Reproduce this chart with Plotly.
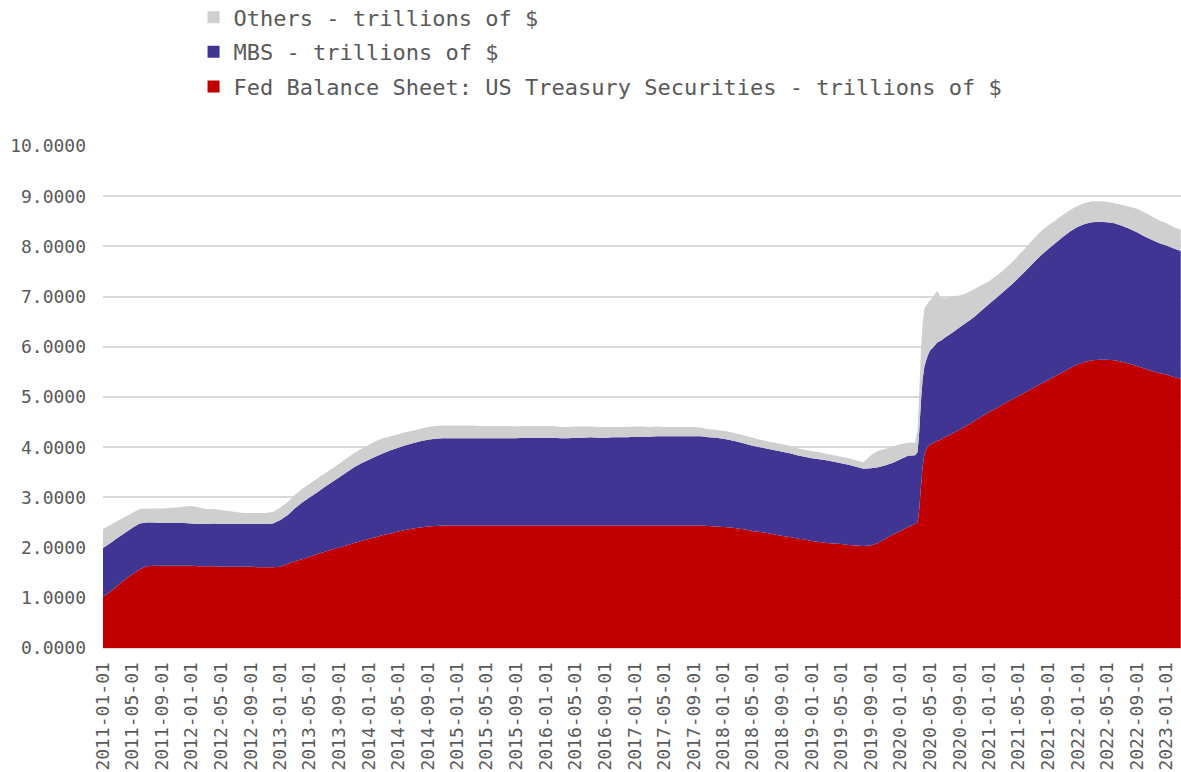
import pandas as pd
import plotly.graph_objects as go

# Monthly observations (first of month), Jan 2011 - Mar 2023, trillions of $
month_start = "2011-01-01"
month_count = 147

treasury_monthly = [
    1.02, 1.12, 1.24, 1.36, 1.47, 1.57, 1.63, 1.64, 1.64, 1.64, 1.64, 1.64,   # 2011
    1.64, 1.63, 1.63, 1.63, 1.62, 1.62, 1.62, 1.62, 1.62, 1.61, 1.61, 1.61,   # 2012
    1.62, 1.68, 1.73, 1.77, 1.82, 1.87, 1.91, 1.96, 2.00, 2.04, 2.09, 2.13,   # 2013
    2.17, 2.21, 2.25, 2.28, 2.32, 2.35, 2.38, 2.40, 2.42, 2.43, 2.44, 2.44,   # 2014
    2.44, 2.44, 2.44, 2.44, 2.44, 2.44, 2.44, 2.44, 2.44, 2.44, 2.44, 2.44,   # 2015
    2.44, 2.44, 2.44, 2.44, 2.44, 2.44, 2.44, 2.44, 2.44, 2.44, 2.44, 2.44,   # 2016
    2.44, 2.44, 2.44, 2.44, 2.44, 2.44, 2.44, 2.44, 2.44, 2.44, 2.43, 2.42,   # 2017
    2.41, 2.40, 2.38, 2.36, 2.33, 2.31, 2.29, 2.26, 2.23, 2.21, 2.18, 2.16,   # 2018
    2.13, 2.11, 2.09, 2.08, 2.07, 2.05, 2.04, 2.03, 2.04, 2.09, 2.18, 2.26,   # 2019
    2.33, 2.41, 2.47, 3.60, 4.05, 4.13, 4.20, 4.27, 4.35, 4.43, 4.52, 4.61,   # 2020
    4.70, 4.78, 4.86, 4.94, 5.02, 5.10, 5.18, 5.26, 5.34, 5.42, 5.50, 5.58,   # 2021
    5.65, 5.70, 5.73, 5.74, 5.74, 5.73, 5.70, 5.66, 5.62, 5.57, 5.52, 5.48,   # 2022
    5.45, 5.40, 5.36,                                                         # 2023
]

mbs_monthly = [
    0.97, 0.97, 0.95, 0.93, 0.92, 0.91, 0.87, 0.86, 0.85, 0.85, 0.85, 0.85,   # 2011
    0.84, 0.84, 0.84, 0.85, 0.85, 0.85, 0.85, 0.85, 0.85, 0.86, 0.86, 0.87,   # 2012
    0.93, 0.97, 1.05, 1.13, 1.18, 1.23, 1.29, 1.34, 1.40, 1.46, 1.51, 1.55,   # 2013
    1.58, 1.61, 1.63, 1.66, 1.67, 1.69, 1.70, 1.72, 1.73, 1.74, 1.74, 1.74,   # 2014
    1.74, 1.74, 1.74, 1.74, 1.74, 1.74, 1.74, 1.74, 1.74, 1.75, 1.75, 1.75,   # 2015
    1.75, 1.75, 1.74, 1.74, 1.75, 1.75, 1.76, 1.75, 1.75, 1.76, 1.76, 1.76,   # 2016
    1.77, 1.77, 1.77, 1.78, 1.78, 1.78, 1.78, 1.78, 1.78, 1.78, 1.77, 1.77,   # 2017
    1.76, 1.74, 1.73, 1.71, 1.70, 1.69, 1.68, 1.68, 1.68, 1.67, 1.66, 1.65,   # 2018
    1.65, 1.65, 1.65, 1.63, 1.61, 1.60, 1.57, 1.54, 1.54, 1.51, 1.46, 1.43,   # 2019
    1.43, 1.42, 1.37, 1.75, 1.87, 1.96, 1.98, 2.01, 2.04, 2.06, 2.08, 2.12,   # 2020
    2.16, 2.20, 2.24, 2.29, 2.35, 2.42, 2.49, 2.56, 2.61, 2.65, 2.69, 2.72,   # 2021
    2.74, 2.75, 2.75, 2.75, 2.74, 2.73, 2.71, 2.69, 2.66, 2.63, 2.61, 2.59,   # 2022
    2.57, 2.56, 2.55,                                                         # 2023
]

others_monthly = [
    0.38, 0.36, 0.34, 0.32, 0.30, 0.29, 0.28, 0.28, 0.29, 0.30, 0.31, 0.33,   # 2011
    0.35, 0.33, 0.30, 0.29, 0.28, 0.26, 0.24, 0.22, 0.22, 0.22, 0.22, 0.23,   # 2012
    0.25, 0.26, 0.27, 0.27, 0.27, 0.27, 0.27, 0.27, 0.27, 0.28, 0.28, 0.29,   # 2013
    0.30, 0.31, 0.30, 0.28, 0.27, 0.26, 0.25, 0.25, 0.25, 0.25, 0.25, 0.25,   # 2014
    0.25, 0.25, 0.25, 0.24, 0.24, 0.24, 0.24, 0.24, 0.23, 0.23, 0.23, 0.23,   # 2015
    0.23, 0.23, 0.22, 0.22, 0.22, 0.22, 0.21, 0.21, 0.21, 0.20, 0.20, 0.20,   # 2016
    0.20, 0.20, 0.19, 0.19, 0.18, 0.18, 0.18, 0.18, 0.18, 0.17, 0.16, 0.16,   # 2017
    0.16, 0.16, 0.16, 0.16, 0.16, 0.15, 0.15, 0.15, 0.15, 0.15, 0.14, 0.14,   # 2018
    0.14, 0.14, 0.13, 0.13, 0.13, 0.13, 0.13, 0.13, 0.26, 0.33, 0.33, 0.33,   # 2019
    0.30, 0.26, 0.25, 1.10, 1.00, 1.02, 0.78, 0.72, 0.63, 0.58, 0.55, 0.50,   # 2020
    0.45, 0.44, 0.43, 0.44, 0.45, 0.46, 0.47, 0.48, 0.47, 0.45, 0.44, 0.43,   # 2021
    0.42, 0.42, 0.42, 0.41, 0.41, 0.40, 0.42, 0.44, 0.47, 0.48, 0.47, 0.45,   # 2022
    0.44, 0.42, 0.42,                                                         # 2023
]

# Extra weekly observations around the spring-2020 expansion
spike_dates = ["2020-03-11", "2020-03-18", "2020-03-25", "2020-04-08", "2020-04-15",
               "2020-04-22", "2020-05-13", "2020-05-20", "2020-06-15"]
spike_treasury = [2.50, 2.75, 3.20, 3.85, 3.95, 4.00, 4.08, 4.10, 4.15]
spike_mbs = [1.40, 1.55, 1.70, 1.75, 1.77, 1.82, 1.90, 1.92, 1.97]
spike_others = [0.45, 0.75, 1.00, 1.15, 1.10, 1.05, 1.00, 1.02, 0.85]

# Axis ticks every four months
tick_dates = pd.date_range("2011-01-01", "2023-01-01", freq="4MS")

series_names = {
    "treasury": "Fed Balance Sheet: US Treasury Securities - trillions of $",
    "mbs": "MBS - trillions of $",
    "others": "Others - trillions of $",
}
series_colors = {"treasury": "#C00000", "mbs": "#413594", "others": "#CFCFCF"}

monthly = pd.DataFrame({
    "date": pd.date_range(month_start, periods=month_count, freq="MS"),
    "treasury": treasury_monthly,
    "mbs": mbs_monthly,
    "others": others_monthly,
})
weekly = pd.DataFrame({
    "date": pd.to_datetime(spike_dates),
    "treasury": spike_treasury,
    "mbs": spike_mbs,
    "others": spike_others,
})
df = pd.concat([monthly, weekly]).sort_values("date").reset_index(drop=True)

text_color = "#595959"
mono = "DejaVu Sans Mono"

fig = go.Figure()
# Stacked areas, bottom to top
for key in ["treasury", "mbs", "others"]:
    fig.add_trace(go.Scatter(
        x=df["date"], y=df[key],
        mode="none", stackgroup="bs",
        fillcolor=series_colors[key],
        name=series_names[key], showlegend=False,
        hoverinfo="x+y",
    ))

# Square legend keys, listed top to bottom
for key in ["others", "mbs", "treasury"]:
    fig.add_trace(go.Scatter(
        x=[None], y=[None], mode="markers",
        marker=dict(symbol="square", size=12, color=series_colors[key]),
        name=series_names[key], legendgroup=key, showlegend=True,
    ))

fig.update_layout(
    width=1181, height=772,
    margin=dict(l=103, r=0, t=146, b=124, autoexpand=False),
    paper_bgcolor="white", plot_bgcolor="white",
    font=dict(family=mono, color=text_color),
    legend=dict(
        x=0.084, y=1.298, xanchor="left", yanchor="top",
        traceorder="grouped", tracegroupgap=3,
        font=dict(family=mono, size=22, color=text_color),
        bgcolor="rgba(0,0,0,0)", itemwidth=30,
    ),
    xaxis=dict(
        type="date",
        range=["2011-01-01", "2023-03-02"],
        tickvals=tick_dates, tickformat="%Y-%m-%d",
        tickangle=-90,
        tickfont=dict(family=mono, size=18, color=text_color),
        showgrid=False, showline=True, linecolor="#D9D9D9", linewidth=1,
        ticks="", ticklabelstandoff=6, zeroline=False,
    ),
    yaxis=dict(
        range=[0, 10], dtick=1, tickformat=".4f",
        tickfont=dict(family=mono, size=18, color=text_color),
        showgrid=True, gridcolor="#D9D9D9", gridwidth=1.5,
        zeroline=False, showline=False, ticks="", ticklabelstandoff=16,
    ),
)

fig.write_html("out.html")
